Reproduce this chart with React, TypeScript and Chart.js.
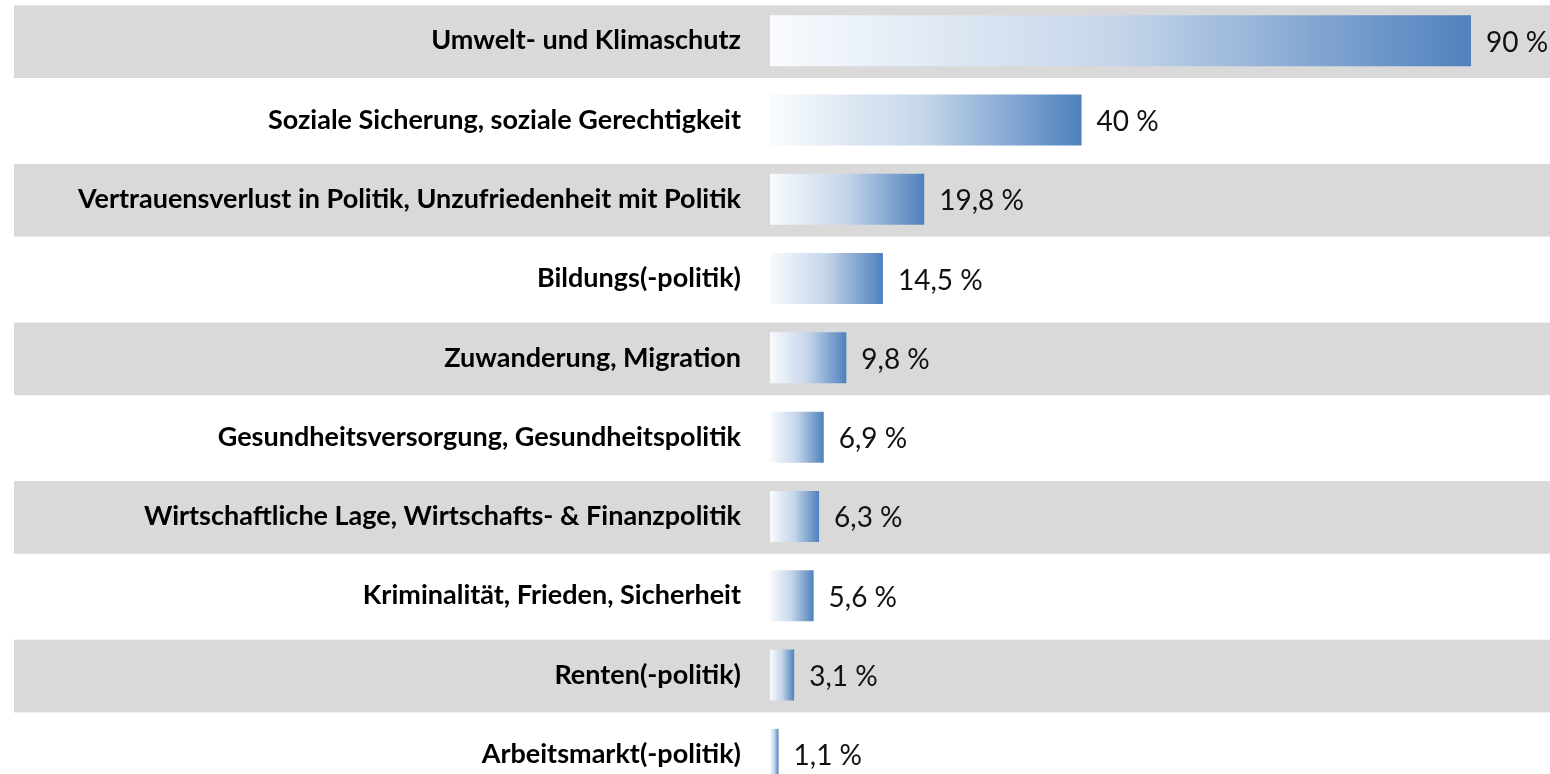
import React, { useEffect, useRef } from "react";
import { Chart, registerables } from "chart.js";

Chart.register(...registerables);

const categories: string[] = [
  "Umwelt- und Klimaschutz",
  "Soziale Sicherung, soziale Gerechtigkeit",
  "Vertrauensverlust in Politik, Unzufriedenheit mit Politik",
  "Bildungs(-politik)",
  "Zuwanderung, Migration",
  "Gesundheitsversorgung, Gesundheitspolitik",
  "Wirtschaftliche Lage, Wirtschafts- & Finanzpolitik",
  "Kriminalität, Frieden, Sicherheit",
  "Renten(-politik)",
  "Arbeitsmarkt(-politik)",
];

const values: number[] = [90, 40, 19.8, 14.5, 9.8, 6.9, 6.3, 5.6, 3.1, 1.1];

const valueLabels: string[] = [
  "90 %",
  "40 %",
  "19,8 %",
  "14,5 %",
  "9,8 %",
  "6,9 %",
  "6,3 %",
  "5,6 %",
  "3,1 %",
  "1,1 %",
];

const bandPlugin = {
  id: "bands",
  beforeDraw(chart: any) {
    const { ctx } = chart;
    const y = chart.scales.y;
    const step = y.getPixelForValue(1) - y.getPixelForValue(0);
    const h = step * 0.917;
    ctx.save();
    ctx.fillStyle = "#d9d9d9";
    for (let i = 0; i < categories.length; i += 2) {
      const cy = y.getPixelForValue(i);
      ctx.fillRect(14, cy - h / 2 + 1, chart.width - 14, h);
    }
    ctx.restore();
  },
};

const valueLabelPlugin = {
  id: "valueLabels",
  afterDatasetsDraw(chart: any) {
    const { ctx } = chart;
    const meta = chart.getDatasetMeta(0);
    ctx.save();
    ctx.font = "28px Lato";
    ctx.fillStyle = "#111111";
    ctx.textAlign = "left";
    ctx.textBaseline = "middle";
    meta.data.forEach((el: any, i: number) => {
      ctx.fillText(valueLabels[i], el.x + 15, el.y + 2);
    });
    ctx.restore();
  },
};

export default function App() {
  const ref = useRef<HTMLCanvasElement | null>(null);

  useEffect(() => {
    if (!ref.current) return;
    const chart = new Chart(ref.current, {
      type: "bar",
      data: {
        labels: categories,
        datasets: [
          {
            data: values,
            borderWidth: 0,
            categoryPercentage: 1,
            barPercentage: 0.643,
            backgroundColor: (c: any) => {
              const ch = c.chart;
              if (!ch.chartArea || c.raw === undefined) return "#4f81bd";
              const xs = ch.scales.x;
              const x0 = xs.getPixelForValue(0);
              const x1 = xs.getPixelForValue(c.raw);
              const g = ch.ctx.createLinearGradient(x0, 0, Math.max(x1, x0 + 1), 0);
              g.addColorStop(0, "#f9fbfe");
              g.addColorStop(0.5, "#c4d5ea");
              g.addColorStop(1, "#4f81bd");
              return g;
            },
          },
        ],
      },
      options: {
        indexAxis: "y",
        animation: false,
        responsive: false,
        devicePixelRatio: 1,
        layout: { padding: { top: 1, right: 79, bottom: 0, left: 0 } },
        plugins: {
          legend: { display: false },
          tooltip: { enabled: false },
        },
        scales: {
          x: {
            display: false,
            min: 0,
            max: 90,
          },
          y: {
            border: { display: false },
            grid: { display: false, drawTicks: false, tickLength: 0 },
            ticks: {
              autoSkip: false,
              padding: 29,
              color: "#000000",
              font: { family: "Lato", weight: "bold", size: 27 },
            },
            afterFit: (scale: any) => {
              scale.width = 770;
              scale.paddingTop = 0;
              scale.paddingBottom = 0;
            },
          },
        },
      },
      plugins: [bandPlugin, valueLabelPlugin],
    });
    return () => chart.destroy();
  }, []);

  return (
    <div
      style={{
        position: "fixed",
        left: 0,
        top: 0,
        width: 1550,
        height: 774,
        overflow: "hidden",
        background: "#ffffff",
      }}
    >
      <canvas ref={ref} width={1550} height={794} style={{ display: "block" }} />
    </div>
  );
}
